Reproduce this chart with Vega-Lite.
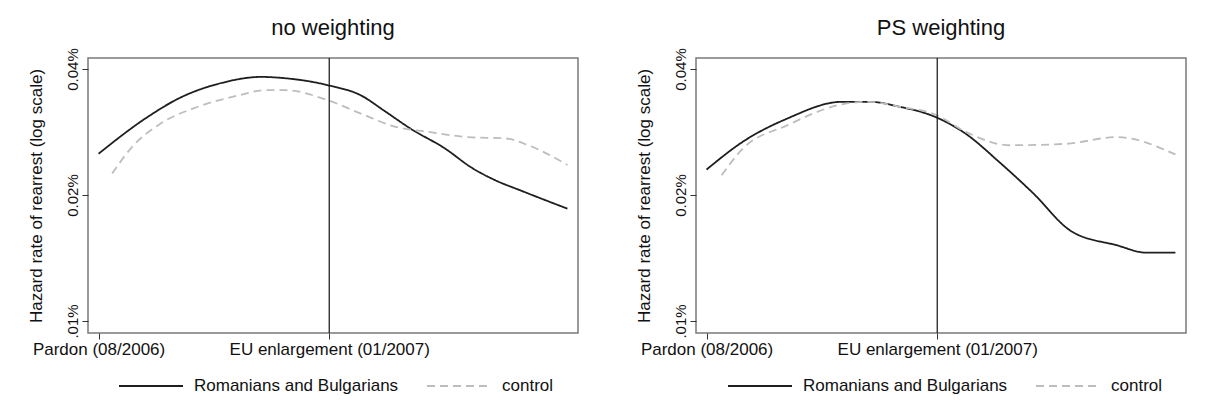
{
  "$schema": "https://vega.github.io/schema/vega-lite/v6.json",
  "padding": {"left": 26, "top": 16, "right": 5, "bottom": 0},
  "background": "white",
  "datasets": {
    "nw": [
      {"group": "Romanians and Bulgarians", "day": 0, "rate": 0.0251},
      {"group": "Romanians and Bulgarians", "day": 33, "rate": 0.0308},
      {"group": "Romanians and Bulgarians", "day": 53, "rate": 0.034},
      {"group": "Romanians and Bulgarians", "day": 81, "rate": 0.037},
      {"group": "Romanians and Bulgarians", "day": 108, "rate": 0.0383},
      {"group": "Romanians and Bulgarians", "day": 121, "rate": 0.0381},
      {"group": "Romanians and Bulgarians", "day": 152, "rate": 0.0366},
      {"group": "Romanians and Bulgarians", "day": 174, "rate": 0.0346},
      {"group": "Romanians and Bulgarians", "day": 190, "rate": 0.0317},
      {"group": "Romanians and Bulgarians", "day": 207, "rate": 0.0288},
      {"group": "Romanians and Bulgarians", "day": 230, "rate": 0.0258},
      {"group": "Romanians and Bulgarians", "day": 247, "rate": 0.0233},
      {"group": "Romanians and Bulgarians", "day": 263, "rate": 0.0217},
      {"group": "Romanians and Bulgarians", "day": 280, "rate": 0.0205},
      {"group": "Romanians and Bulgarians", "day": 311, "rate": 0.01855},
      {"group": "control", "day": 9, "rate": 0.0225},
      {"group": "control", "day": 22, "rate": 0.026},
      {"group": "control", "day": 41, "rate": 0.0296},
      {"group": "control", "day": 66, "rate": 0.0325},
      {"group": "control", "day": 93, "rate": 0.0346},
      {"group": "control", "day": 110, "rate": 0.0356},
      {"group": "control", "day": 124, "rate": 0.0356},
      {"group": "control", "day": 152, "rate": 0.0337},
      {"group": "control", "day": 174, "rate": 0.0313},
      {"group": "control", "day": 197, "rate": 0.0291},
      {"group": "control", "day": 219, "rate": 0.0283},
      {"group": "control", "day": 245, "rate": 0.0275},
      {"group": "control", "day": 270, "rate": 0.0273},
      {"group": "control", "day": 285, "rate": 0.0263},
      {"group": "control", "day": 311, "rate": 0.0236}
    ],
    "ps": [
      {"group": "Romanians and Bulgarians", "day": 0, "rate": 0.023},
      {"group": "Romanians and Bulgarians", "day": 24, "rate": 0.0268},
      {"group": "Romanians and Bulgarians", "day": 53, "rate": 0.0304},
      {"group": "Romanians and Bulgarians", "day": 90, "rate": 0.0334},
      {"group": "Romanians and Bulgarians", "day": 108, "rate": 0.0334},
      {"group": "Romanians and Bulgarians", "day": 128, "rate": 0.0325},
      {"group": "Romanians and Bulgarians", "day": 152, "rate": 0.0307},
      {"group": "Romanians and Bulgarians", "day": 172, "rate": 0.028},
      {"group": "Romanians and Bulgarians", "day": 194, "rate": 0.024},
      {"group": "Romanians and Bulgarians", "day": 216, "rate": 0.0203},
      {"group": "Romanians and Bulgarians", "day": 242, "rate": 0.01638},
      {"group": "Romanians and Bulgarians", "day": 272, "rate": 0.01517},
      {"group": "Romanians and Bulgarians", "day": 292, "rate": 0.01456},
      {"group": "Romanians and Bulgarians", "day": 311, "rate": 0.01456},
      {"group": "control", "day": 10, "rate": 0.0223},
      {"group": "control", "day": 24, "rate": 0.0258},
      {"group": "control", "day": 53, "rate": 0.0293},
      {"group": "control", "day": 93, "rate": 0.0331},
      {"group": "control", "day": 108, "rate": 0.0334},
      {"group": "control", "day": 128, "rate": 0.0325},
      {"group": "control", "day": 152, "rate": 0.0311},
      {"group": "control", "day": 172, "rate": 0.0283},
      {"group": "control", "day": 201, "rate": 0.0263},
      {"group": "control", "day": 238, "rate": 0.0265},
      {"group": "control", "day": 272, "rate": 0.0275},
      {"group": "control", "day": 311, "rate": 0.025}
    ],
    "eu": [{"day": 153}]
  },
  "config": {
    "font": "Liberation Sans",
    "view": {"stroke": "#7a7a7a", "strokeWidth": 1.5},
    "axis": {"grid": false, "domain": false, "tickColor": "#333333", "tickSize": 6, "labelColor": "#111111", "titleColor": "#111111", "titleFontWeight": "normal", "labelLimit": 0},
    "title": {"fontSize": 22, "fontWeight": "normal", "anchor": "middle", "frame": "group", "color": "#111111", "offset": 8},
    "legend": {"orient": "none", "legendX": 30, "legendY": 295, "direction": "horizontal", "symbolType": "stroke", "symbolSize": 4096, "symbolStrokeWidth": 2, "labelFontSize": 17, "labelColor": "#111111", "labelOffset": 10, "columnPadding": 24, "labelLimit": 400},
    "concat": {"spacing": 55}
  },
  "resolve": {"scale": {"color": "independent", "strokeDash": "independent"}, "legend": {"color": "independent", "strokeDash": "independent"}},
  "hconcat": [
    {
      "width": 490, "height": 275,
      "title": {"text": "no weighting"},
      "layer": [
        {
          "data": {"name": "nw"},
          "mark": {"type": "line", "interpolate": "monotone", "strokeWidth": 1.8},
          "encoding": {
            "x": {"field": "day", "type": "quantitative", "scale": {"domain": [-7, 318], "nice": false, "zero": false},
                  "axis": {"values": [0, 153], "labelExpr": "datum.value < 50 ? 'Pardon (08/2006)' : 'EU enlargement (01/2007)'", "title": null, "labelFontSize": 17, "labelPadding": 2}},
            "y": {"field": "rate", "type": "quantitative", "scale": {"type": "log", "domain": [0.00936, 0.0425], "nice": false},
                  "axis": {"values": [0.01, 0.02, 0.04], "labelExpr": "datum.value < 0.015 ? '.01%' : (datum.value < 0.03 ? '0.02%' : '0.04%')", "labelAngle": -90, "labelAlign": "center", "labelBaseline": "bottom", "labelFontSize": 15, "labelPadding": 2, "title": "Hazard rate of rearrest (log scale)", "titleFontSize": 17, "titlePadding": 20}},
            "color": {"field": "group", "type": "nominal", "scale": {"domain": ["Romanians and Bulgarians", "control"], "range": ["#1e1e1e", "#bdbdbd"]}, "legend": {"title": null, "orient": "none", "legendX": 30, "legendY": 295}},
            "strokeDash": {"field": "group", "type": "nominal", "scale": {"domain": ["Romanians and Bulgarians", "control"], "range": [[1, 0], [8, 5]]}, "legend": {"title": null, "orient": "none", "legendX": 30, "legendY": 295}}
          }
        },
        {
          "data": {"name": "eu"},
          "mark": {"type": "rule", "color": "#111111", "strokeWidth": 1.2},
          "encoding": {"x": {"field": "day", "type": "quantitative"}}
        }
      ]
    },
    {
      "width": 490, "height": 275,
      "title": {"text": "PS weighting"},
      "layer": [
        {
          "data": {"name": "ps"},
          "mark": {"type": "line", "interpolate": "monotone", "strokeWidth": 1.8},
          "encoding": {
            "x": {"field": "day", "type": "quantitative", "scale": {"domain": [-7, 318], "nice": false, "zero": false},
                  "axis": {"values": [0, 153], "labelExpr": "datum.value < 50 ? 'Pardon (08/2006)' : 'EU enlargement (01/2007)'", "title": null, "labelFontSize": 17, "labelPadding": 2}},
            "y": {"field": "rate", "type": "quantitative", "scale": {"type": "log", "domain": [0.00936, 0.0425], "nice": false},
                  "axis": {"values": [0.01, 0.02, 0.04], "labelExpr": "datum.value < 0.015 ? '.01%' : (datum.value < 0.03 ? '0.02%' : '0.04%')", "labelAngle": -90, "labelAlign": "center", "labelBaseline": "bottom", "labelFontSize": 15, "labelPadding": 2, "title": "Hazard rate of rearrest (log scale)", "titleFontSize": 17, "titlePadding": 20}},
            "color": {"field": "group", "type": "nominal", "scale": {"domain": ["Romanians and Bulgarians", "control"], "range": ["#1e1e1e", "#bdbdbd"]}, "legend": {"title": null, "orient": "none", "legendX": 31, "legendY": 295}},
            "strokeDash": {"field": "group", "type": "nominal", "scale": {"domain": ["Romanians and Bulgarians", "control"], "range": [[1, 0], [8, 5]]}, "legend": {"title": null, "orient": "none", "legendX": 31, "legendY": 295}}
          }
        },
        {
          "data": {"name": "eu"},
          "mark": {"type": "rule", "color": "#111111", "strokeWidth": 1.2},
          "encoding": {"x": {"field": "day", "type": "quantitative"}}
        }
      ]
    }
  ]
}
